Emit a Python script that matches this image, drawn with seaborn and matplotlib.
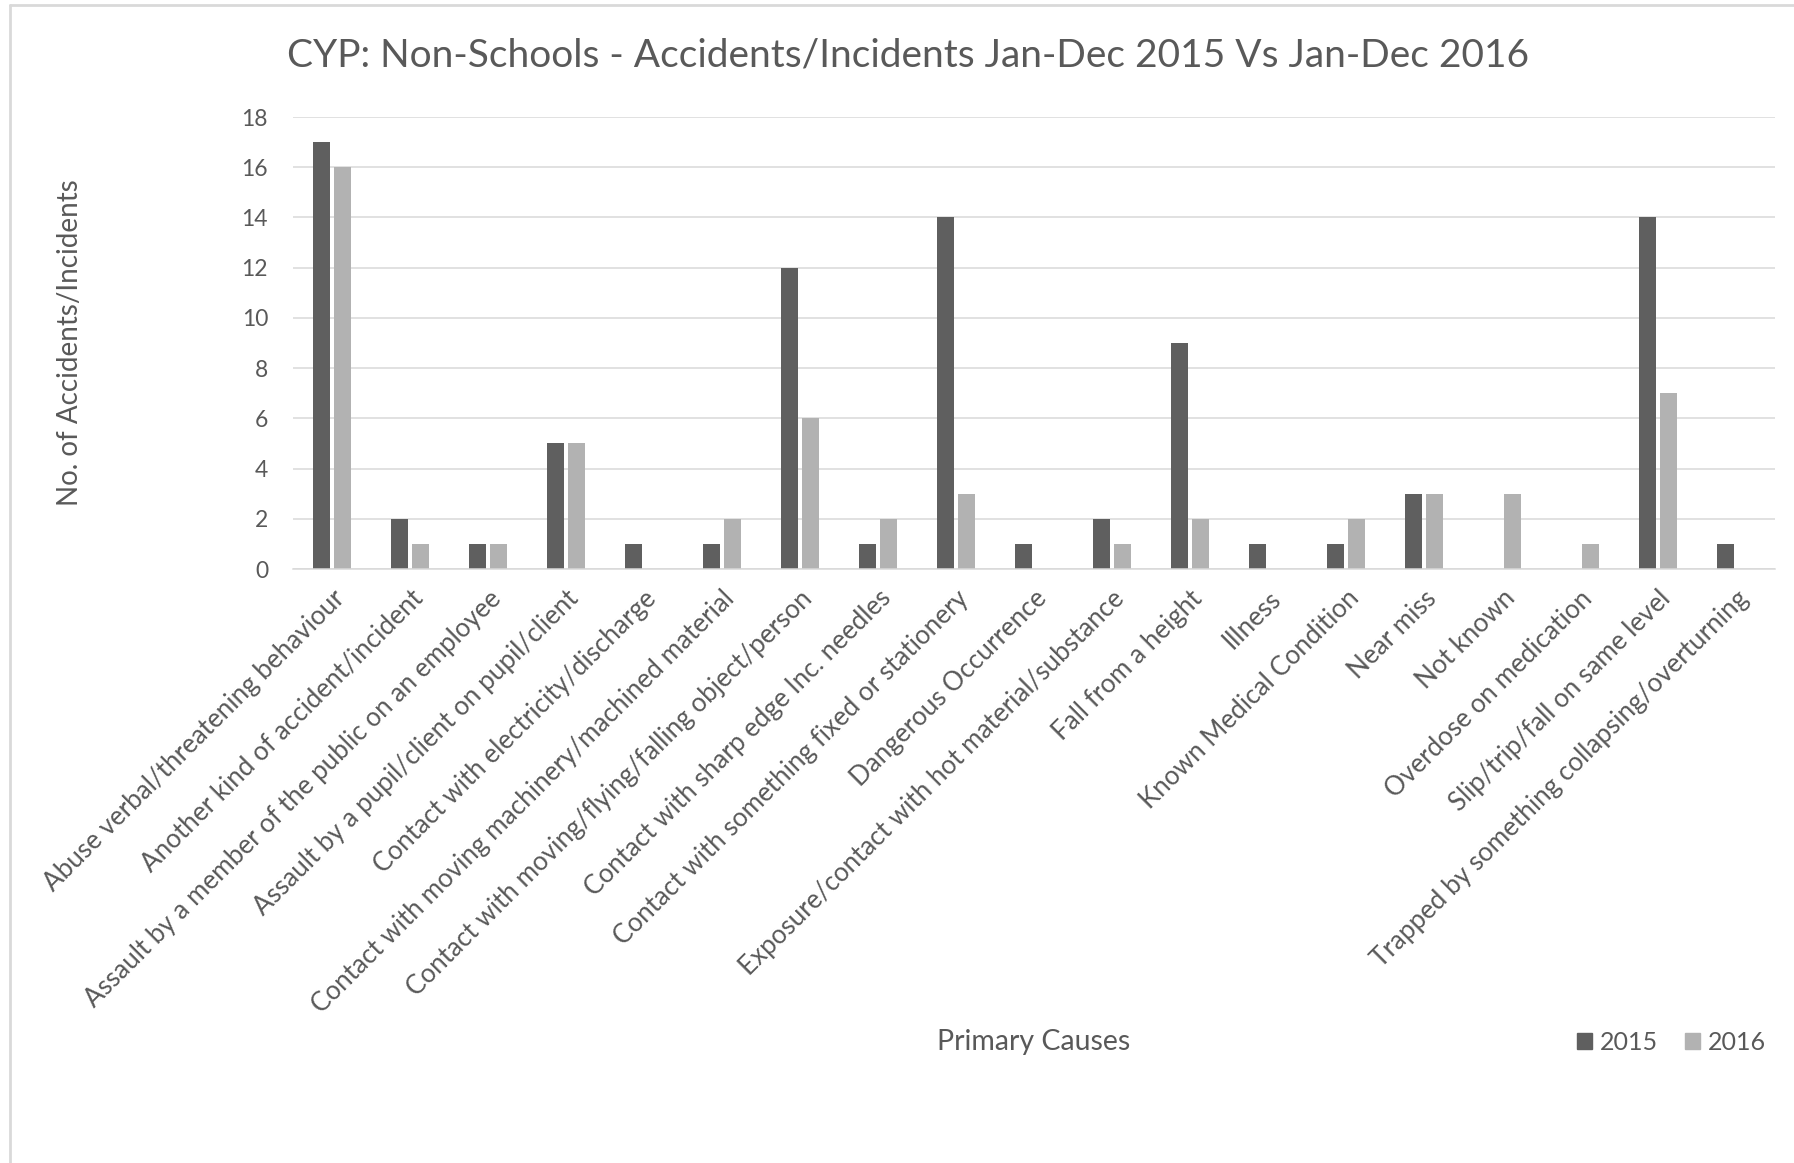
import matplotlib
matplotlib.use("Agg")
import matplotlib.pyplot as plt
import seaborn as sns
import pandas as pd
from matplotlib.lines import Line2D

causes = [
    "Abuse verbal/threatening behaviour",
    "Another kind of accident/incident",
    "Assault by a member of the public on an employee",
    "Assault by a pupil/client on pupil/client",
    "Contact with electricity/discharge",
    "Contact with moving machinery/machined material",
    "Contact with moving/flying/falling object/person",
    "Contact with sharp edge Inc. needles",
    "Contact with something fixed or stationery",
    "Dangerous Occurrence",
    "Exposure/contact with hot material/substance",
    "Fall from a height",
    "Illness",
    "Known Medical Condition",
    "Near miss",
    "Not known",
    "Overdose on medication",
    "Slip/trip/fall on same level",
    "Trapped by something collapsing/overturning",
]
values_2015 = [17, 2, 1, 5, 1, 1, 12, 1, 14, 1, 2, 9, 1, 1, 3, 0, 0, 14, 1]
values_2016 = [16, 1, 1, 5, 0, 2, 6, 2, 3, 0, 1, 2, 0, 2, 3, 3, 1, 7, 0]
years = ["2015", "2016"]
y_ticks = [0, 2, 4, 6, 8, 10, 12, 14, 16, 18]

title = "CYP: Non-Schools - Accidents/Incidents Jan-Dec 2015 Vs Jan-Dec 2016"
x_label = "Primary Causes"
y_label = "No. of Accidents/Incidents"

df = pd.DataFrame({
    "cause": causes * 2,
    "count": values_2015 + values_2016,
    "year": [years[0]] * len(causes) + [years[1]] * len(causes),
})

sns.set_theme(style="white")
plt.rcParams["font.family"] = ["Lato", "DejaVu Sans"]
TXT = "#595959"
GRID = "#d9d9d9"
colors = {"2015": "#5f5f5f", "2016": "#b2b2b2"}

W, H = 1794, 1163
fig = plt.figure(figsize=(W / 100, H / 100), dpi=100)
ax = fig.add_axes([293 / W, 1 - 569 / H, (1775 - 293) / W, (569 - 117) / H])

sns.barplot(data=df, x="cause", y="count", hue="year", order=causes,
            hue_order=years, palette=colors, width=0.53, gap=0.15,
            linewidth=0, saturation=1, ax=ax, legend=False)

ax.set_ylim(0, 18)
ax.set_xlim(-0.5, len(causes) - 0.5)
ax.set_yticks(y_ticks)
ax.set_yticklabels([str(t) for t in y_ticks], fontsize=16.5, color=TXT)
ax.tick_params(axis="y", length=0, pad=18)
ax.tick_params(axis="x", length=0, pad=12)
ax.set_xticks(range(len(causes)))
ax.set_xticklabels(causes, rotation=45, ha="right", rotation_mode="anchor",
                   fontsize=18.7, color=TXT)
ax.yaxis.grid(True, color=GRID, linewidth=1.1)
ax.set_axisbelow(True)
for s in ["top", "right", "left"]:
    ax.spines[s].set_visible(False)
ax.spines["bottom"].set_color(GRID)
ax.spines["bottom"].set_linewidth(1.1)
ax.set_xlabel("")
ax.set_ylabel("")

fig.text(908 / W, 1 - 56 / H, title, ha="center", va="center",
         fontsize=28, color=TXT)
fig.text(70 / W, 1 - 343 / H, y_label, ha="center", va="center",
         rotation=90, fontsize=20, color=TXT)
fig.text(1034 / W, 1 - 1042 / H, x_label, ha="center", va="center",
         fontsize=20.5, color=TXT)

handles = [plt.Rectangle((0, 0), 1, 1, color=colors[y]) for y in years]
fig.legend(handles, years, loc="center right",
           bbox_to_anchor=(1766 / W, 1 - 1042 / H), ncol=2, frameon=False,
           fontsize=18, labelcolor=TXT, handlelength=0.6, handleheight=0.6,
           handletextpad=0.3, columnspacing=1.1, borderaxespad=0, borderpad=0)

fig.add_artist(Line2D([10 / W, 1.0], [1 - 5 / H, 1 - 5 / H],
                      transform=fig.transFigure, color=GRID, linewidth=2))
fig.add_artist(Line2D([10 / W, 10 / W], [0, 1 - 5 / H],
                      transform=fig.transFigure, color=GRID, linewidth=2))

fig.savefig("out.png", dpi=100, facecolor="white")
